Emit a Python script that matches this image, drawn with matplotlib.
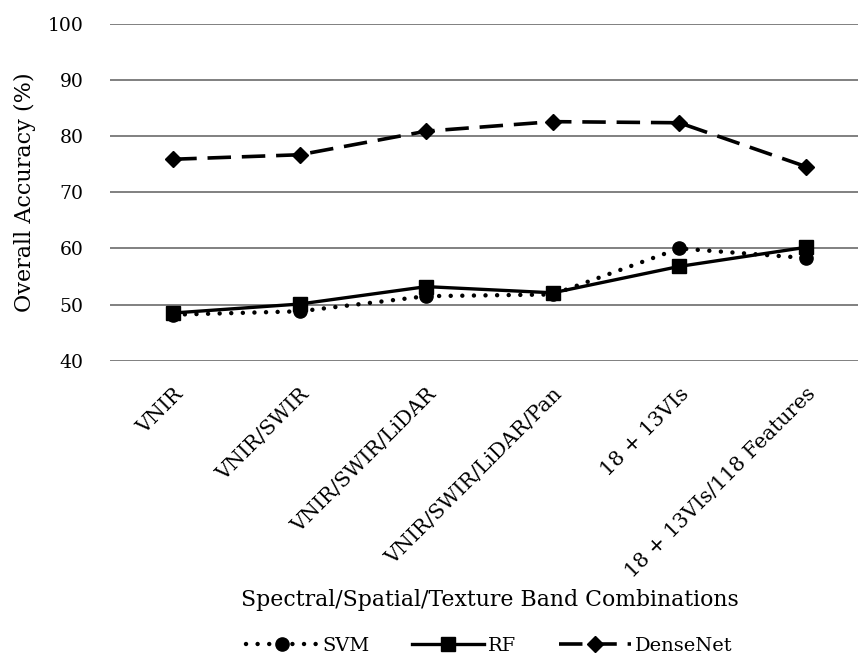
import matplotlib.pyplot as plt

categories = ["VNIR", "VNIR/SWIR", "VNIR/SWIR/LiDAR", "VNIR/SWIR/LiDAR/Pan",
              "18 + 13VIs", "18 + 13VIs/118 Features"]
svm = [48.2, 48.8, 51.5, 51.8, 60.0, 58.3]
rf = [48.5, 50.1, 53.2, 52.1, 56.8, 60.2]
densenet = [75.9, 76.7, 80.9, 82.6, 82.4, 74.6]

plt.rcParams['font.family'] = ['DejaVu Serif']

fig = plt.figure(figsize=(8.58, 6.6), dpi=100)
ax = fig.add_axes([110 / 858, (660 - 360.7) / 660, 759 / 858, 336.7 / 660])

x = range(len(categories))
ax.plot(x, svm, color='black', lw=3.2, linestyle=(0, (0.01, 2.6)),
        dash_capstyle='round', marker='o', ms=9.5, label="SVM")
ax.plot(x, rf, color='black', lw=2.4, linestyle='-', marker='s', ms=9.5, label="RF")
ax.plot(x, densenet, color='black', lw=2.6, linestyle=(0, (6.5, 3)),
        marker='D', ms=8.5, label="DenseNet")

ax.set_xlim(-0.5, len(categories) - 0.5)
ax.set_ylim(40, 100)
ax.set_yticks(range(40, 101, 10))
ax.grid(axis='y', color='#808080', lw=1.4)
ax.set_axisbelow(True)
for s in ax.spines.values():
    s.set_visible(False)
ax.tick_params(length=0, labelsize=13.5)
ax.tick_params(axis='y', pad=19)
ax.set_xticks(list(x))
ax.set_xticklabels(categories, rotation=45, ha='right', rotation_mode='anchor',
                   fontsize=14.8)
ax.tick_params(axis='x', pad=17)

ax.set_ylabel("Overall Accuracy (%)", fontsize=16)
ax.yaxis.set_label_coords(-74 / 759, 0.5)
ax.set_xlabel("Spectral/Spatial/Texture Band Combinations", fontsize=15.8, va='center')
ax.xaxis.set_label_coords(0.5, (360.7 - 600) / 336.7)

fig.legend(*ax.get_legend_handles_labels(), loc='center',
           bbox_to_anchor=(489.5 / 858, 14 / 660),
           ncol=3, frameon=False, fontsize=14, handlelength=3.7, handletextpad=0.2,
           columnspacing=2.2)

fig.savefig('out.png', dpi=100)
